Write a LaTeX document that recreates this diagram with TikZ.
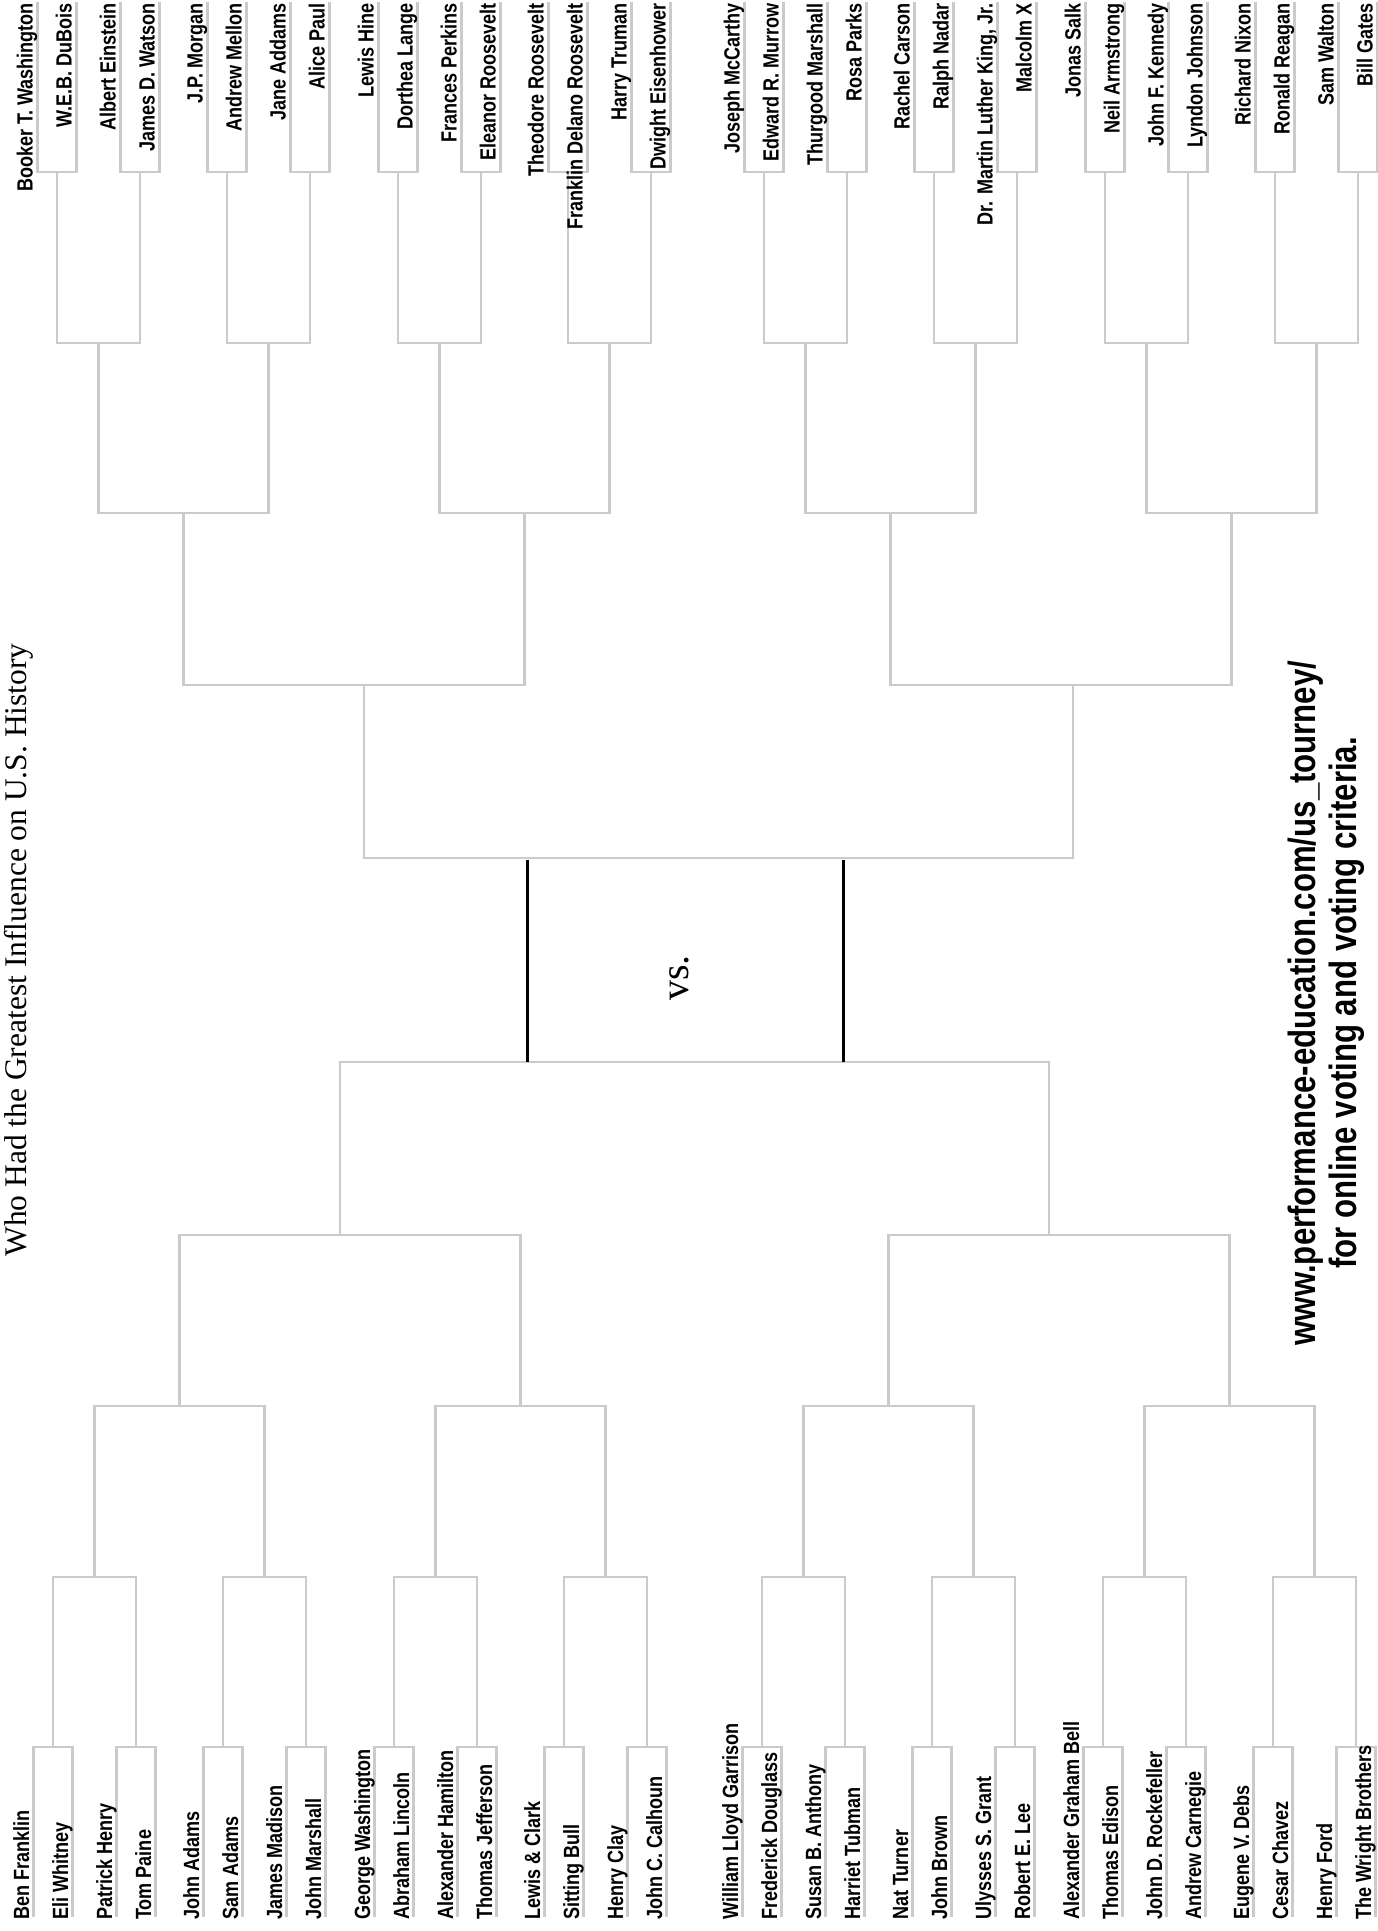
\documentclass[tikz,border=0pt]{standalone}
\usepackage{fontspec}
\newfontfamily\namefont[FakeStretch=0.82]{Liberation Sans}
\newfontfamily\titlefont{Liberation Serif}
\definecolor{brkgray}{RGB}{203,203,203}
\begin{document}
\begin{tikzpicture}[x=1pt,y=-1pt,
  brk/.style={draw=brkgray, line width=2.2pt},
  final/.style={draw=black, line width=3pt},
  nm/.style={font=\namefont\bfseries\fontsize{22}{22}\selectfont, inner sep=0pt, rotate=90},
  url/.style={font=\namefont\bfseries\fontsize{38}{38}\selectfont, inner sep=0pt, rotate=90, anchor=base},
  ttl/.style={font=\titlefont\fontsize{31.5}{31.5}\selectfont, inner sep=0pt, rotate=90, anchor=base}]
\useasboundingbox (0,0) rectangle (1378,1931);
\fill[white] (0,0) rectangle (1378,1931);

% ---------------- bottom half ----------------
\foreach \c [count=\i] in {53,136,223,306,394,477,564,647,762,845,932,1015,1103,1186,1273,1356} {
  \coordinate (bj\i) at (\c,1747);
  \coordinate (bla\i) at (\c-19.5,1917);
  \coordinate (blb\i) at (\c+19.5,1917);
  \draw[brk] (bla\i) |- (bj\i) -| (blb\i);
}
\foreach \c [count=\i] in {94.5,264.5,435.5,605.5,803.5,973.5,1144.5,1314.5} {
  \pgfmathtruncatemacro\a{2*\i-1}\pgfmathtruncatemacro\b{2*\i}
  \coordinate (bk\i) at (\c,1577);
  \draw[brk] (bj\a) |- (bk\i) -| (bj\b);
}
\foreach \c [count=\i] in {179.5,520.5,888.5,1229.5} {
  \pgfmathtruncatemacro\a{2*\i-1}\pgfmathtruncatemacro\b{2*\i}
  \coordinate (bm\i) at (\c,1406);
  \draw[brk] (bk\a) |- (bm\i) -| (bk\b);
}
\foreach \c [count=\i] in {340,1049} {
  \pgfmathtruncatemacro\a{2*\i-1}\pgfmathtruncatemacro\b{2*\i}
  \coordinate (bn\i) at (\c,1235);
  \draw[brk] (bm\a) |- (bn\i) -| (bm\b);
}
\coordinate (bfin) at (694.5,1062);
\draw[brk] (bn1) |- (bfin) -| (bn2);

% ---------------- top half ----------------
\foreach \c [count=\i] in {57,140,227,310,398,481,568,651,764,847,934,1017,1105,1188,1275,1358} {
  \coordinate (tj\i) at (\c,172);
  \coordinate (tla\i) at (\c-19.5,2);
  \coordinate (tlb\i) at (\c+19.5,2);
  \draw[brk] (tla\i) |- (tj\i) -| (tlb\i);
}
\foreach \c [count=\i] in {98.5,268.5,439.5,609.5,805.5,975.5,1146.5,1316.5} {
  \pgfmathtruncatemacro\a{2*\i-1}\pgfmathtruncatemacro\b{2*\i}
  \coordinate (tk\i) at (\c,343);
  \draw[brk] (tj\a) |- (tk\i) -| (tj\b);
}
\foreach \c [count=\i] in {183.5,524.5,890.5,1231.5} {
  \pgfmathtruncatemacro\a{2*\i-1}\pgfmathtruncatemacro\b{2*\i}
  \coordinate (tm\i) at (\c,513);
  \draw[brk] (tk\a) |- (tm\i) -| (tk\b);
}
\foreach \c [count=\i] in {364,1073} {
  \pgfmathtruncatemacro\a{2*\i-1}\pgfmathtruncatemacro\b{2*\i}
  \coordinate (tn\i) at (\c,685);
  \draw[brk] (tm\a) |- (tn\i) -| (tm\b);
}
\coordinate (tfin) at (718.5,858);
\draw[brk] (tn1) |- (tfin) -| (tn2);

% ---------------- final black connectors ----------------
\coordinate (vt1) at (527,860);  \coordinate (vb1) at (527,1062);
\coordinate (vt2) at (843,860);  \coordinate (vb2) at (843,1062);
\draw[final] (vt1) -- (vb1);
\draw[final] (vt2) -- (vb2);
\node[font=\titlefont\fontsize{40}{40}\selectfont, inner sep=0pt, rotate=90, anchor=base] (vs) at (688,978) {vs.};

% ---------------- names ----------------
\foreach \x/\t [count=\n] in {33.5/Ben Franklin, 72.5/Eli Whitney, 116.5/Patrick Henry, 155.5/Tom Paine,
  203.5/John Adams, 242.5/Sam Adams, 286.5/James Madison, 325.5/John Marshall,
  374.5/George Washington, 413.5/Abraham Lincoln, 457.5/Alexander Hamilton, 496.5/Thomas Jefferson,
  544.5/Lewis \& Clark, 583.5/Sitting Bull, 627.5/Henry Clay, 666.5/John C. Calhoun,
  742.5/William Lloyd Garrison, 781.5/Frederick Douglass, 825.5/Susan B. Anthony, 864.5/Harriet Tubman,
  912.5/Nat Turner, 951.5/John Brown, 995.5/Ulysses S. Grant, 1034.5/Robert E. Lee,
  1083.5/Alexander Graham Bell, 1122.5/Thomas Edison, 1166.5/John D. Rockefeller, 1205.5/Andrew Carnegie,
  1253.5/Eugene V. Debs, 1292.5/Cesar Chavez, 1336.5/Henry Ford, 1375.5/The Wright Brothers} {
  \node[nm, anchor=base west] (b\n) at (\x-4.5,1920) {\t};
}
\foreach \x/\t [count=\n] in {37.5/Booker T. Washington, 76.5/W.E.B. DuBois, 120.5/Albert Einstein, 159.5/James D. Watson,
  207.5/J.P. Morgan, 246.5/Andrew Mellon, 290.5/Jane Addams, 329.5/Alice Paul,
  378.5/Lewis Hine, 417.5/Dorthea Lange, 461.5/Frances Perkins, 500.5/Eleanor Roosevelt,
  548.5/Theodore Roosevelt, 587.5/Franklin Delano Roosevelt, 631.5/Harry Truman, 670.5/Dwight Eisenhower,
  744.5/Joseph McCarthy, 783.5/Edward R. Murrow, 827.5/Thurgood Marshall, 866.5/Rosa Parks,
  914.5/Rachel Carson, 953.5/Ralph Nadar, 997.5/{Dr. Martin Luther King, Jr.}, 1036.5/Malcolm X,
  1085.5/Jonas Salk, 1124.5/Neil Armstrong, 1168.5/John F. Kennedy, 1207.5/Lyndon Johnson,
  1255.5/Richard Nixon, 1294.5/Ronald Reagan, 1338.5/Sam Walton, 1377.5/Bill Gates} {
  \node[nm, anchor=base east] (t\n) at (\x-5,3) {\t};
}

% ---------------- title and note ----------------
\node[ttl] (title) at (26,950) {Who Had the Greatest Influence on U.S. History};
\node[url] (url1) at (1315,1003) {www.performance-education.com/us\_tourney/};
\node[url] (url2) at (1356,1003) {for online voting and voting criteria.};
\end{tikzpicture}
\end{document}
